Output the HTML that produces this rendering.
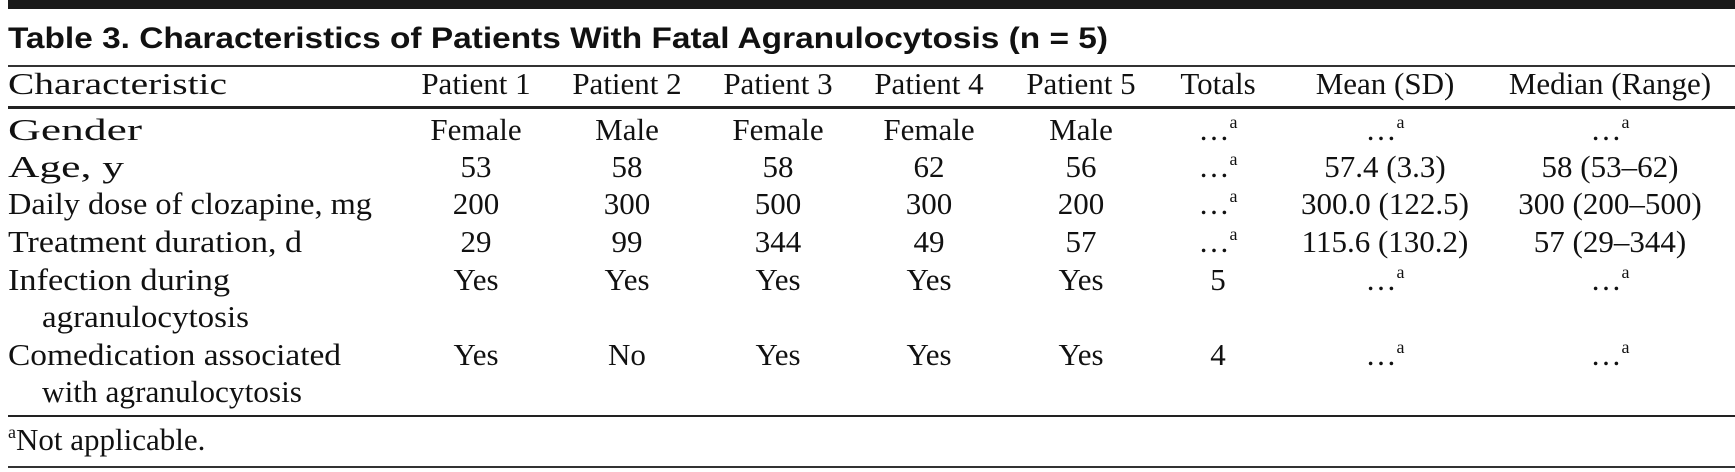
<!DOCTYPE html>
<html><head><meta charset="utf-8"><style>
html,body{margin:0;padding:0;background:#fff;}
svg{display:block}
.t{font-family:"Liberation Serif",serif;font-size:31px;fill:#111}
.h{font-family:"Liberation Sans",sans-serif;font-weight:bold;font-size:30px;fill:#111}
.s{font-size:18px}
</style></head><body>
<svg width="1735" height="472" xmlns="http://www.w3.org/2000/svg">
<rect x="8" y="0" width="1727" height="9" fill="#1a1a1a"/>
<text class="h" x="8" y="48" textLength="1100" lengthAdjust="spacingAndGlyphs">Table 3. Characteristics of Patients With Fatal Agranulocytosis (n = 5)</text>
<rect x="8" y="65" width="1727" height="2" fill="#333"/>
<g class="t">
<text x="8" y="94" textLength="219" lengthAdjust="spacingAndGlyphs">Characteristic</text>
<g text-anchor="middle">
<text x="476" y="94">Patient 1</text><text x="627" y="94">Patient 2</text><text x="778" y="94">Patient 3</text><text x="929" y="94">Patient 4</text><text x="1081" y="94">Patient 5</text><text x="1218" y="94">Totals</text><text x="1385" y="94">Mean (SD)</text><text x="1610" y="94">Median (Range)</text>
</g>
</g>
<rect x="8" y="106" width="1727" height="3" fill="#222"/>
<g class="t">
<text x="8" y="140" textLength="134" lengthAdjust="spacingAndGlyphs">Gender</text>
<text x="8" y="177" textLength="116" lengthAdjust="spacingAndGlyphs">Age, y</text>
<text x="8" y="214" textLength="364" lengthAdjust="spacingAndGlyphs">Daily dose of clozapine, mg</text>
<text x="8" y="252" textLength="294" lengthAdjust="spacingAndGlyphs">Treatment duration, d</text>
<text x="8" y="290" textLength="222" lengthAdjust="spacingAndGlyphs">Infection during</text>
<text x="42" y="327" textLength="207" lengthAdjust="spacingAndGlyphs">agranulocytosis</text>
<text x="8" y="365" textLength="333" lengthAdjust="spacingAndGlyphs">Comedication associated</text>
<text x="42" y="402" textLength="260" lengthAdjust="spacingAndGlyphs">with agranulocytosis</text>
<g text-anchor="middle">
<text x="476" y="140">Female</text><text x="627" y="140">Male</text><text x="778" y="140">Female</text><text x="929" y="140">Female</text><text x="1081" y="140">Male</text>
<text x="476" y="177">53</text><text x="627" y="177">58</text><text x="778" y="177">58</text><text x="929" y="177">62</text><text x="1081" y="177">56</text>
<text x="476" y="214">200</text><text x="627" y="214">300</text><text x="778" y="214">500</text><text x="929" y="214">300</text><text x="1081" y="214">200</text>
<text x="476" y="252">29</text><text x="627" y="252">99</text><text x="778" y="252">344</text><text x="929" y="252">49</text><text x="1081" y="252">57</text>
<text x="476" y="290">Yes</text><text x="627" y="290">Yes</text><text x="778" y="290">Yes</text><text x="929" y="290">Yes</text><text x="1081" y="290">Yes</text>
<text x="476" y="365">Yes</text><text x="627" y="365">No</text><text x="778" y="365">Yes</text><text x="929" y="365">Yes</text><text x="1081" y="365">Yes</text>
<text x="1218" y="140">…<tspan class="s" dy="-12">a</tspan></text>
<text x="1218" y="177">…<tspan class="s" dy="-12">a</tspan></text>
<text x="1218" y="214">…<tspan class="s" dy="-12">a</tspan></text>
<text x="1218" y="252">…<tspan class="s" dy="-12">a</tspan></text>
<text x="1218" y="290">5</text>
<text x="1218" y="365">4</text>
<text x="1385" y="140">…<tspan class="s" dy="-12">a</tspan></text>
<text x="1385" y="177">57.4 (3.3)</text>
<text x="1385" y="214">300.0 (122.5)</text>
<text x="1385" y="252">115.6 (130.2)</text>
<text x="1385" y="290">…<tspan class="s" dy="-12">a</tspan></text>
<text x="1385" y="365">…<tspan class="s" dy="-12">a</tspan></text>
<text x="1610" y="140">…<tspan class="s" dy="-12">a</tspan></text>
<text x="1610" y="177">58 (53–62)</text>
<text x="1610" y="214">300 (200–500)</text>
<text x="1610" y="252">57 (29–344)</text>
<text x="1610" y="290">…<tspan class="s" dy="-12">a</tspan></text>
<text x="1610" y="365">…<tspan class="s" dy="-12">a</tspan></text>
</g>
</g>
<rect x="8" y="415" width="1727" height="2" fill="#222"/>
<text class="t" x="8" y="450"><tspan class="s" dy="-12">a</tspan><tspan dy="12">Not applicable.</tspan></text>
<rect x="8" y="466" width="1727" height="2" fill="#333"/>
</svg>
</body></html>
